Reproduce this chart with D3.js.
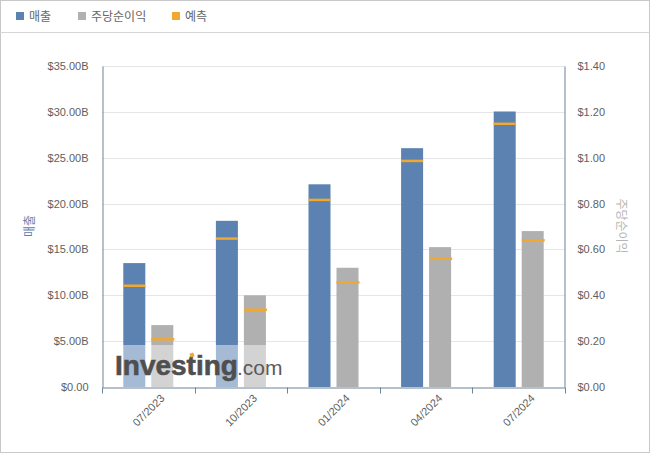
<!DOCTYPE html>
<html><head><meta charset="utf-8">
<script src="https://cdn.jsdelivr.net/npm/d3@7"></script>
<style>
html,body{margin:0;padding:0;background:#fff;}
svg{display:block;font-family:"Liberation Sans",Arial,"Noto Sans CJK KR",sans-serif;}
</style></head>
<body>
<svg id="chart" width="650" height="453"></svg>
<script>
const categories = ["07/2023","10/2023","01/2024","04/2024","07/2024"];
const revenue = [13.51e9, 18.12e9, 22.10e9, 26.04e9, 30.04e9];
const revenueForecast = [11.04e9, 16.18e9, 20.40e9, 24.65e9, 28.70e9];
const eps = [0.27, 0.40, 0.52, 0.61, 0.68];
const epsForecast = [0.208, 0.337, 0.456, 0.559, 0.640];
const revenueTicks = [0,5e9,10e9,15e9,20e9,25e9,30e9,35e9];
const epsTicks = [0,0.2,0.4,0.6,0.8,1.0,1.2,1.4];
const legendItems = [{label:"매출",color:"#5b82b1"},{label:"주당순이익",color:"#b0b0b0"},{label:"예측",color:"#f0a830"}];

const svg = d3.select("#chart");
const W=650,H=453;
const L=102,R=565,T=66,B=387;
const blue="#5b82b1", gray="#b0b0b0", orange="#f0a830", axisCol="#6e8298";

// outer frame
svg.append("rect").attr("x",0.5).attr("y",0.5).attr("width",W-1).attr("height",H-1).attr("fill","#fff").attr("stroke","#c8c8c8");
// legend bar
svg.append("line").attr("x1",0).attr("x2",W).attr("y1",32.5).attr("y2",32.5).attr("stroke","#d6d6d6");
const legX=[16,78,172];
legendItems.forEach((d,i)=>{
  svg.append("rect").attr("x",legX[i]).attr("y",12).attr("width",8).attr("height",8).attr("fill",d.color);
  svg.append("text").attr("x",legX[i]+13).attr("y",20.5).attr("font-size",12).attr("fill","#666")
    .attr("font-family","'Noto Sans CJK KR',sans-serif").text(d.label);
});

const x = d3.scaleBand().domain(categories).range([L,R]).padding(0);
const y1 = d3.scaleLinear().domain([0,35e9]).range([B,T]);
const y2 = d3.scaleLinear().domain([0,1.4]).range([B,T]);

// gridlines
svg.append("g").selectAll("line").data(revenueTicks.slice(1)).join("line")
  .attr("x1",L).attr("x2",R).attr("y1",d=>Math.round(y1(d))+0.5).attr("y2",d=>Math.round(y1(d))+0.5)
  .attr("stroke","#e6e6e6");

const bw = x.bandwidth();
const barW = 22, gap = 3;
const cx = d=>x(d)+bw/2;

// bars
svg.append("g").selectAll("rect").data(categories).join("rect")
  .attr("x",(d)=>cx(d)-gap-barW).attr("width",barW)
  .attr("y",(d,i)=>y1(revenue[i])).attr("height",(d,i)=>B-y1(revenue[i])).attr("fill",blue);
svg.append("g").selectAll("rect").data(categories).join("rect")
  .attr("x",(d)=>cx(d)+gap).attr("width",barW)
  .attr("y",(d,i)=>y2(eps[i])).attr("height",(d,i)=>B-y2(eps[i])).attr("fill",gray);
// forecast markers
svg.append("g").selectAll("line").data(categories).join("line")
  .attr("x1",d=>cx(d)-gap-barW).attr("x2",d=>cx(d)-gap)
  .attr("y1",(d,i)=>y1(revenueForecast[i])).attr("y2",(d,i)=>y1(revenueForecast[i]))
  .attr("stroke",orange).attr("stroke-width",2.5);
svg.append("g").selectAll("line").data(categories).join("line")
  .attr("x1",d=>cx(d)+gap).attr("x2",d=>cx(d)+gap+barW+1)
  .attr("y1",(d,i)=>y2(epsForecast[i])).attr("y2",(d,i)=>y2(epsForecast[i]))
  .attr("stroke",orange).attr("stroke-width",2.5);

// watermark
const wm = svg.append("g");
wm.append("rect").attr("x",112).attr("y",345).attr("width",168).attr("height",B-345).attr("fill","#fff").attr("opacity",0.45);
wm.append("text").attr("x",115).attr("y",375).attr("font-size",28).attr("font-weight","bold")
  .attr("letter-spacing",0).attr("fill","#4f4f4f").attr("stroke","#4f4f4f").attr("stroke-width",0.6)
  .attr("font-family","'Liberation Sans',Arial,sans-serif").text("Investing");
wm.append("text").attr("x",237).attr("y",375).attr("font-size",21).attr("fill","#5a5a5a")
  .attr("font-family","'Liberation Sans',Arial,sans-serif").text(".com");
wm.append("rect").attr("x",190).attr("y",353).attr("width",4).attr("height",4).attr("fill",orange).attr("transform","rotate(-20,192,355)");

// axes
const fmt1 = d=>"$"+(d/1e9).toFixed(2)+"B";
const yAxisL = d3.axisLeft(y1).tickValues(revenueTicks).tickFormat(d=>d===0?"$0.00":fmt1(d)).tickSize(0).tickPadding(14);
const gL = svg.append("g").attr("transform",`translate(${L+0.5},0)`).call(yAxisL);
gL.select(".domain").attr("stroke",axisCol);
gL.selectAll("text").attr("font-size",11).attr("fill","#606060").attr("font-family","'Liberation Sans',Arial,sans-serif");

const yAxisR = d3.axisRight(y2).tickValues(epsTicks).tickFormat(d=>"$"+d.toFixed(2)).tickSize(0).tickPadding(13);
const gR = svg.append("g").attr("transform",`translate(${R-0.5},0)`).call(yAxisR);
gR.select(".domain").attr("stroke",axisCol);
gR.selectAll("text").attr("font-size",11).attr("fill","#606060").attr("font-family","'Liberation Sans',Arial,sans-serif");

const xAxis = d3.axisBottom(x).tickSize(0).tickFormat("");
const gX = svg.append("g").attr("transform",`translate(0,${B+0.5})`).call(xAxis);
gX.select(".domain").attr("stroke",axisCol);
// boundary ticks
const bounds = categories.map(d=>x(d)).concat([R]);
gX.selectAll(".bt").data(bounds).join("line").attr("class","bt")
  .attr("x1",d=>Math.round(d)+0.5).attr("x2",d=>Math.round(d)+0.5).attr("y1",0).attr("y2",6).attr("stroke",axisCol);
// rotated labels
svg.append("g").selectAll("text").data(categories).join("text")
  .attr("transform",d=>`translate(${cx(d)+17},${B+12}) rotate(-45)`)
  .attr("text-anchor","end").attr("font-size",11).attr("fill","#606060")
  .attr("font-family","'Liberation Sans',Arial,sans-serif").text(d=>d);

// axis titles
svg.append("text").attr("transform","translate(34,226) rotate(-90)").attr("text-anchor","middle")
  .attr("font-size",12).attr("fill","#5b82b1").attr("font-family","'Noto Sans CJK KR',sans-serif").text("매출");
svg.append("text").attr("transform","translate(617,226) rotate(90)").attr("text-anchor","middle")
  .attr("font-size",12).attr("fill","#b5b5b5").attr("font-family","'Noto Sans CJK KR',sans-serif").text("주당순이익");
</script>
</body></html>
